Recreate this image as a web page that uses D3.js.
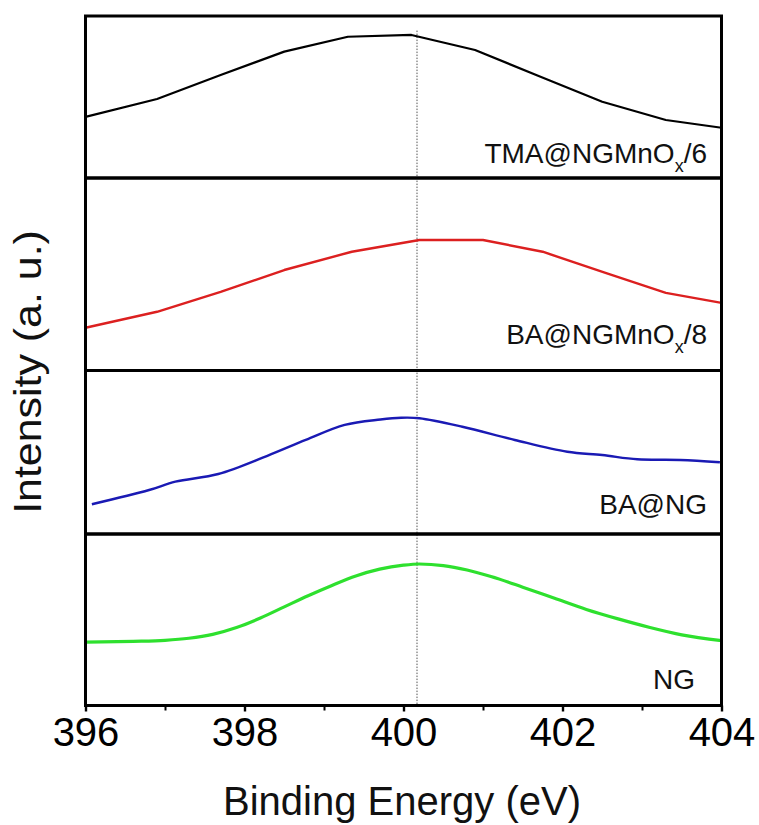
<!DOCTYPE html>
<html>
<head>
<meta charset="utf-8">
<script src="https://cdn.jsdelivr.net/npm/d3@7"></script>
<style>
  html, body { margin: 0; padding: 0; background: #fff; }
  svg { display: block; font-family: "Liberation Sans", Arial, Helvetica, sans-serif; }
</style>
</head>
<body>
<svg id="chart" width="759" height="825"></svg>
<script>
// N 1s spectra, stacked panels (intensity normalised per panel, arbitrary units)
const tmaEnergy    = [396.0, 396.9, 397.7, 398.5, 399.3, 400.1, 400.9, 401.7, 402.5, 403.3, 404.0];
const tmaIntensity = [0.377, 0.488, 0.636, 0.780, 0.872, 0.883, 0.790, 0.630, 0.471, 0.358, 0.310];

const baMnEnergy    = [396.0, 396.9, 397.7, 398.5, 399.35, 400.2, 401.0, 401.75, 402.55, 403.3, 404.0];
const baMnIntensity = [0.222, 0.305, 0.408, 0.522, 0.617, 0.678, 0.678, 0.617, 0.506, 0.403, 0.351];

const baNgEnergy    = [396.08, 396.80, 397.13, 397.67, 398.28, 398.77, 399.26, 399.71, 399.97, 400.20, 400.74, 401.40, 402.06, 402.50, 402.94, 403.48, 403.98];
const baNgIntensity = [0.182, 0.269, 0.320, 0.367, 0.477, 0.575, 0.667, 0.700, 0.711, 0.708, 0.656, 0.575, 0.503, 0.483, 0.457, 0.453, 0.439];

const ngEnergy    = [396.0, 396.6, 397.0, 397.3, 397.6, 397.9, 398.2, 398.5, 398.8, 399.1, 399.4, 399.7, 400.0, 400.2, 400.5, 400.8, 401.1, 401.5, 401.9, 402.3, 402.7, 403.1, 403.5, 404.0];
const ngIntensity = [0.369, 0.374, 0.380, 0.392, 0.415, 0.455, 0.510, 0.575, 0.640, 0.700, 0.755, 0.795, 0.818, 0.825, 0.816, 0.790, 0.752, 0.690, 0.625, 0.560, 0.505, 0.455, 0.412, 0.378];

const seriesLabels = ["TMA@NGMnO|x|/6", "BA@NGMnO|x|/8", "BA@NG", "NG"];
const seriesColors = ["#000000", "#dc2020", "#1a1ab4", "#2ee02e"];

const xMajorTicks = [396, 398, 400, 402, 404];
const xMinorTicks = [397, 399, 401, 403];
const peakEnergy = 400.17;

const xTitle = "Binding Energy (eV)";
const yTitle = "Intensity (a. u.)";

// ---- layout ----
const svg = d3.select("#chart");
const plotLeft = 85.5, plotRight = 721.5;
const panelEdges = [16, 178, 370.5, 534, 705.5];

const x = d3.scaleLinear().domain([396, 404]).range([plotLeft, plotRight]);

const series = [
  { e: tmaEnergy, v: tmaIntensity, curve: d3.curveLinear, width: 2.2 },
  { e: baMnEnergy, v: baMnIntensity, curve: d3.curveLinear, width: 2.4 },
  { e: baNgEnergy, v: baNgIntensity, curve: d3.curveCatmullRom, width: 2.4 },
  { e: ngEnergy, v: ngIntensity, curve: d3.curveMonotoneX, width: 3.2 }
];

svg.append("clipPath").attr("id", "plotClip")
  .append("rect")
  .attr("x", plotLeft).attr("y", panelEdges[0])
  .attr("width", plotRight - plotLeft)
  .attr("height", panelEdges[4] - panelEdges[0]);

// dotted reference line at the peak position
const topY = d3.scaleLinear().domain([0, 1]).range([panelEdges[1], panelEdges[0]]);
svg.append("line")
  .attr("x1", x(peakEnergy)).attr("x2", x(peakEnergy))
  .attr("y1", topY(0.91)).attr("y2", panelEdges[4])
  .attr("stroke", "#555").attr("stroke-width", 1)
  .attr("stroke-dasharray", "1.5,1.5");

series.forEach((s, i) => {
  const top = panelEdges[i], bottom = panelEdges[i + 1];
  const y = d3.scaleLinear().domain([0, 1]).range([bottom, top]);
  const pts = s.e.map((e, k) => [e, s.v[k]]);
  const line = d3.line().x(d => x(d[0])).y(d => y(d[1])).curve(s.curve);

  svg.append("path")
    .datum(pts)
    .attr("d", line)
    .attr("fill", "none")
    .attr("stroke", seriesColors[i])
    .attr("stroke-width", s.width)
    .attr("stroke-linejoin", "round")
    .attr("clip-path", "url(#plotClip)");

  // sample label, bottom-right of the panel
  const parts = seriesLabels[i].split("|");
  const t = svg.append("text")
    .attr("x", i === 3 ? 695 : 707)
    .attr("y", bottom - (i === 0 ? 15 : i === 1 ? 27 : i === 2 ? 20 : 17))
    .attr("text-anchor", "end")
    .attr("font-size", 28)
    .attr("fill", "#111");
  t.append("tspan").text(parts[0]);
  if (parts.length > 1) {
    t.append("tspan").attr("font-size", 18).attr("dy", 9).text(parts[1]);
    t.append("tspan").attr("dy", -9).text(parts[2]);
  }
});

// panel frames
for (let i = 0; i < 4; i++) {
  svg.append("rect")
    .attr("x", plotLeft).attr("y", panelEdges[i])
    .attr("width", plotRight - plotLeft)
    .attr("height", panelEdges[i + 1] - panelEdges[i])
    .attr("fill", "none")
    .attr("stroke", "#000")
    .attr("stroke-width", 3);
}

// bottom axis
const axis = svg.append("g").attr("transform", `translate(0,${panelEdges[4]})`);
axis.append("g")
  .call(d3.axisBottom(x).tickValues(xMinorTicks).tickSize(5).tickFormat(""))
  .call(g => g.select(".domain").remove())
  .call(g => g.selectAll("line").attr("stroke-width", 2));
axis.append("g")
  .call(d3.axisBottom(x).tickValues(xMajorTicks).tickSize(6).tickPadding(6).tickFormat(d3.format("d")))
  .call(g => g.select(".domain").remove())
  .call(g => g.selectAll("line").attr("stroke-width", 2.4))
  .call(g => g.selectAll("text")
    .attr("font-size", 40)
    .attr("font-family", "'Liberation Sans', Arial, sans-serif")
    .attr("fill", "#000"));

// axis titles
svg.append("text")
  .attr("x", 402).attr("y", 815)
  .attr("text-anchor", "middle")
  .attr("font-size", 40)
  .attr("fill", "#111")
  .text(xTitle);

svg.append("text")
  .attr("transform", "translate(41,372) rotate(-90) scale(1.1,1)")
  .attr("text-anchor", "middle")
  .attr("font-size", 39)
  .attr("fill", "#111")
  .text(yTitle);
</script>
</body>
</html>
